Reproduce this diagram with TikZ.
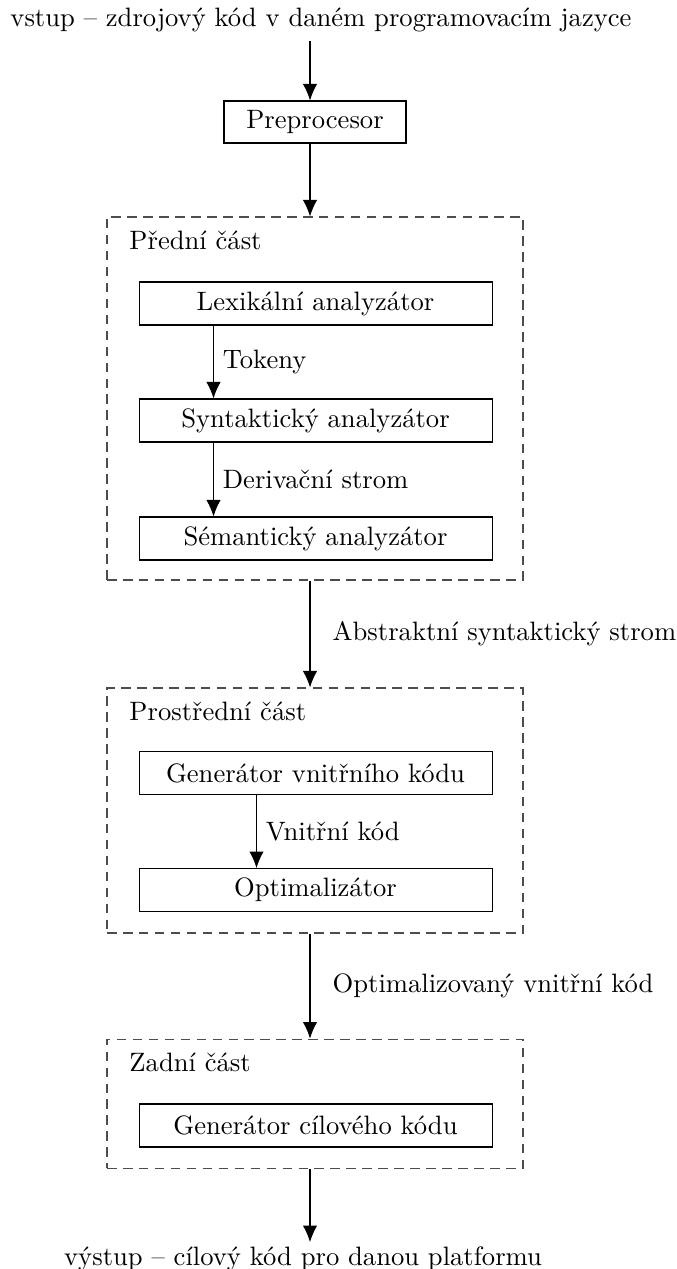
\documentclass[tikz,border=0pt]{standalone}
\usetikzlibrary{arrows.meta,positioning}

\begin{document}
\begin{tikzpicture}[
  font=\normalsize,
  frame/.style={draw=black!70, dash pattern=on 3.6pt off 2.4pt, minimum width=5.497cm},
  stage/.style={draw, minimum width=4.664cm, minimum height=0.568cm},
  arrow/.style={-{Latex[length=6.2pt,width=5.4pt]}},
  title/.style={anchor=base west, inner sep=0pt},
  flow/.style={right, xshift=5pt}
]
\useasboundingbox (0,0) rectangle (8.932,-16.767);
\coordinate (axis) at (4.096,0);

% input and preprocessing
\node[anchor=base] (in) at (4.241,-0.344) {vstup -- zdrojový kód v daném programovacím jazyce};
\node[draw, minimum width=2.405cm, minimum height=0.555cm] (pre) at (4.162,-1.612) {Preprocesor};

% front end
\node[frame, minimum height=4.796cm] (front) at (4.162,-5.265) {};
\node[title] at ([xshift=0.297cm,yshift=-0.436cm]front.north west) {Přední část};
\node[stage] (lex) at (4.169,-4.010) {Lexikální analyzátor};
\node[stage] (syn) at (4.169,-5.556) {Syntaktický analyzátor};
\node[stage] (sem) at (4.169,-7.115) {Sémantický analyzátor};

% middle end
\node[frame, minimum height=3.237cm] (middle) at (4.162,-10.709) {};
\node[title] at ([xshift=0.297cm,yshift=-0.436cm]middle.north west) {Prostřední část};
\node[stage] (ir) at (4.169,-10.214) {Generátor vnitřního kódu};
\node[stage] (opt) at (4.169,-11.760) {Optimalizátor};

% back end
\node[frame, minimum height=1.704cm] (back) at (4.162,-14.581) {};
\node[title] at ([xshift=0.297cm,yshift=-0.436cm]back.north west) {Zadní část};
\node[stage] (gen) at (4.169,-14.871) {Generátor cílového kódu};

\node[anchor=north, inner sep=1.5pt] (out) at (4.004,-16.411) {výstup -- cílový kód pro danou platformu};

\draw[arrow] (in.south -| axis) -- (pre.north -| axis);
\draw[arrow] (pre.south -| axis) -- (front.north -| axis);
\draw[arrow] ([xshift=0.991cm]lex.south west) -- node[right] {Tokeny} ([xshift=0.991cm]syn.north west);
\draw[arrow] ([xshift=0.991cm]syn.south west) -- node[right] {Derivační strom} ([xshift=0.991cm]sem.north west);
\draw[arrow] (front.south -| axis) -- node[flow] {Abstraktní syntaktický strom} (middle.north -| axis);
\draw[arrow] ([xshift=1.559cm]ir.south west) -- node[right] {Vnitřní kód} ([xshift=1.559cm]opt.north west);
\draw[arrow] (middle.south -| axis) -- node[flow] {Optimalizovaný vnitřní kód} (back.north -| axis);
\draw[arrow] (back.south -| axis) -- (out.north -| axis);
\end{tikzpicture}
\end{document}
